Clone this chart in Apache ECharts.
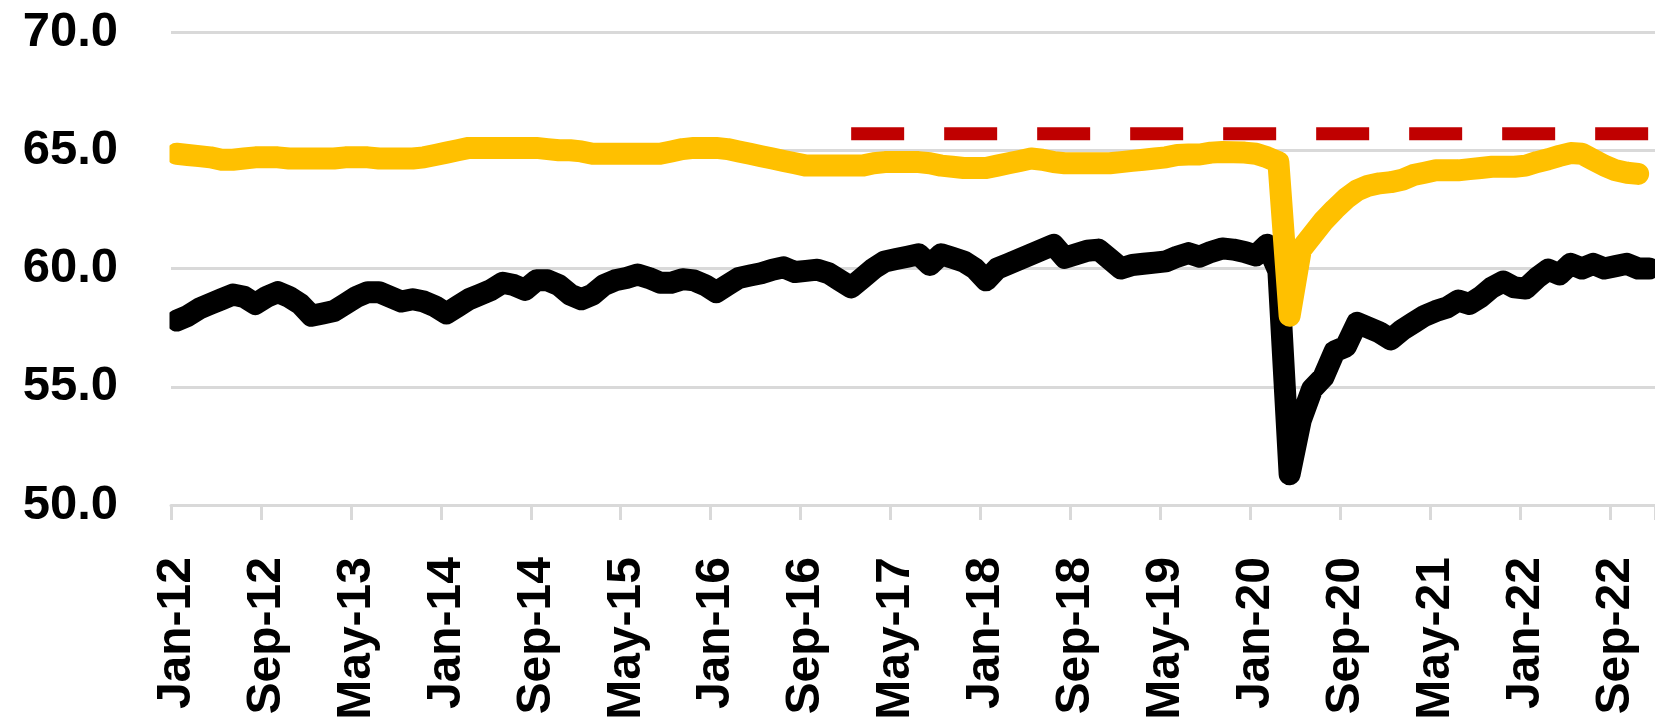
<!DOCTYPE html>
<html>
<head>
<meta charset="utf-8">
<title>Monthly rates, 2012–2022</title>
<script src="https://cdn.jsdelivr.net/npm/echarts@6/dist/echarts.min.js"></script>
<style>
  html, body { margin: 0; padding: 0; background: #ffffff; }
  #chart { width: 1655px; height: 724px; }
</style>
</head>
<body>
<div id="chart"></div>
<script>
// Monthly categories, Jan-12 through Dec-22
const monthNames = ['Jan', 'Feb', 'Mar', 'Apr', 'May', 'Jun', 'Jul', 'Aug', 'Sep', 'Oct', 'Nov', 'Dec'];
const years = [12, 13, 14, 15, 16, 17, 18, 19, 20, 21, 22];
const categories = [];
years.forEach(function (y) {
  monthNames.forEach(function (m) { categories.push(m + '-' + y); });
});

// Lower series (black)
const blackSeries = [
  57.8, 58.0, 58.3, 58.5, 58.7, 58.9, 58.8, 58.5, 58.8, 59.0, 58.8, 58.5,
  58.0, 58.1, 58.2, 58.5, 58.8, 59.0, 59.0, 58.8, 58.6, 58.7, 58.6, 58.4,
  58.1, 58.4, 58.7, 58.9, 59.1, 59.4, 59.3, 59.1, 59.5, 59.5, 59.3, 58.9,
  58.7, 58.9, 59.3, 59.5, 59.6, 59.75, 59.6, 59.4, 59.4, 59.55, 59.5, 59.3,
  59.0, 59.3, 59.6, 59.7, 59.8, 59.95, 60.05, 59.85, 59.9, 59.95, 59.8, 59.5,
  59.2, 59.6, 60.0, 60.3, 60.4, 60.5, 60.6, 60.15, 60.6, 60.45, 60.3, 60.0,
  59.5, 60.0, 60.2, 60.4, 60.6, 60.8, 61.0, 60.45, 60.6, 60.75, 60.8, 60.4,
  60.0, 60.15, 60.2, 60.25, 60.3, 60.5, 60.65, 60.5, 60.7, 60.85, 60.8, 60.7,
  60.55, 61.0, 59.9, 51.3, 53.6, 54.9, 55.4, 56.5, 56.7, 57.7, 57.5, 57.3,
  57.0, 57.4, 57.7, 58.0, 58.2, 58.35, 58.65, 58.5, 58.8, 59.2, 59.45, 59.2,
  59.15, 59.6, 59.95, 59.75, 60.2, 60.0, 60.2, 60.0, 60.1, 60.2, 60.0, 60.0
];

// Upper series (gold); no reading yet for Dec-22
const goldSeries = [
  64.85, 64.8, 64.75, 64.7, 64.6, 64.6, 64.65, 64.7, 64.7, 64.7, 64.65, 64.65,
  64.65, 64.65, 64.65, 64.7, 64.7, 64.7, 64.65, 64.65, 64.65, 64.65, 64.7, 64.8,
  64.9, 65.0, 65.1, 65.1, 65.1, 65.1, 65.1, 65.1, 65.1, 65.05, 65.0, 65.0,
  64.95, 64.85, 64.85, 64.85, 64.85, 64.85, 64.85, 64.85, 64.95, 65.05, 65.1, 65.1,
  65.1, 65.05, 64.95, 64.85, 64.75, 64.65, 64.55, 64.45, 64.35, 64.35, 64.35, 64.35,
  64.35, 64.35, 64.45, 64.5, 64.5, 64.5, 64.5, 64.45, 64.35, 64.3, 64.25, 64.25,
  64.25, 64.35, 64.45, 64.55, 64.65, 64.6, 64.5, 64.45, 64.45, 64.45, 64.45, 64.45,
  64.5, 64.55, 64.6, 64.65, 64.7, 64.8, 64.82, 64.82, 64.9, 64.93, 64.92, 64.9,
  64.85, 64.7, 64.5, 58.0, 60.8, 61.4, 62.0, 62.5, 62.95, 63.3, 63.5, 63.6,
  63.65, 63.75, 63.95, 64.05, 64.15, 64.15, 64.15, 64.2, 64.25, 64.3, 64.3, 64.3,
  64.35, 64.5, 64.62, 64.76, 64.88, 64.85, 64.6, 64.35, 64.15, 64.05, 64.0, null
];

// Reference level (red dashes), drawn from Jan-17 onward
const referenceLevel = 65.7;
const referenceStart = 'Jan-17';

// Value-axis ticks
const yTicks = [50, 55, 60, 65, 70];

const refStartIdx = categories.indexOf(referenceStart);
const referenceSeries = categories.map(function (c, i) {
  return i >= refStartIdx ? referenceLevel : null;
});

const FONT = "'Liberation Sans', Arial, sans-serif";
const GRID = '#D9D9D9';
const PLOT_LEFT = 171;

const chart = echarts.init(document.getElementById('chart'), null, { renderer: 'canvas' });

chart.setOption({
  animation: false,
  backgroundColor: '#ffffff',
  grid: { left: PLOT_LEFT, right: 0, top: 32, bottom: 219, containLabel: false },
  xAxis: {
    type: 'category',
    data: categories,
    boundaryGap: true,
    axisLine: { show: true, lineStyle: { color: GRID, width: 3 } },
    axisTick: { show: true, interval: 7, length: 15, lineStyle: { color: GRID, width: 3 } },
    axisLabel: {
      interval: 7,
      rotate: 90,
      margin: 52,
      color: '#000000',
      fontSize: 48,
      fontWeight: 'bold',
      fontFamily: FONT
    },
    splitLine: { show: false }
  },
  yAxis: {
    type: 'value',
    min: yTicks[0],
    max: yTicks[yTicks.length - 1],
    interval: yTicks[1] - yTicks[0],
    axisLine: { show: false },
    axisTick: { show: false },
    axisLabel: {
      margin: 53,
      color: '#000000',
      fontSize: 49,
      fontWeight: 'bold',
      fontFamily: FONT,
      formatter: function (v) { return v.toFixed(1); }
    },
    splitLine: { show: true, lineStyle: { color: GRID, width: 3 } }
  },
  // trims the line ends flush with the left edge of the plot area
  graphic: [{
    type: 'rect',
    z: 100,
    silent: true,
    shape: { x: PLOT_LEFT - 30, y: 0, width: 28.5, height: 503 },
    style: { fill: '#ffffff' }
  }],
  series: [
    {
      name: 'Lower',
      type: 'line',
      data: blackSeries,
      symbol: 'none',
      silent: true,
      z: 2,
      lineStyle: { color: '#000000', width: 22, cap: 'round', join: 'round' }
    },
    {
      name: 'Upper',
      type: 'line',
      data: goldSeries,
      symbol: 'none',
      silent: true,
      z: 3,
      lineStyle: { color: '#FFC000', width: 22, cap: 'round', join: 'round' }
    },
    {
      name: 'Reference',
      type: 'line',
      data: referenceSeries,
      symbol: 'none',
      silent: true,
      z: 4,
      lineStyle: { color: '#C00000', width: 13, type: [53, 40], cap: 'butt' }
    }
  ]
});
</script>
</body>
</html>
